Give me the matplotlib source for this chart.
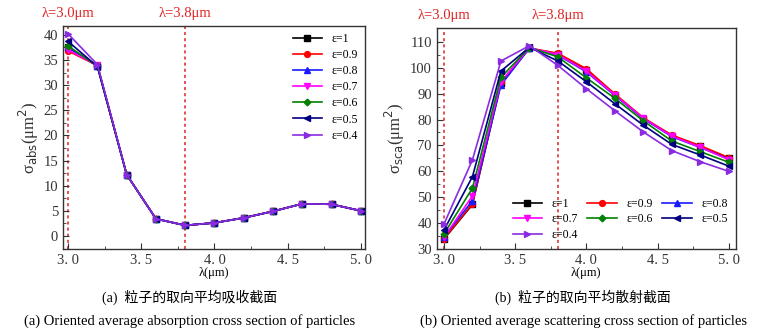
import matplotlib
matplotlib.use("Agg")
import matplotlib.pyplot as plt
import numpy as np

plt.rcParams['font.family'] = ['Liberation Serif', 'Noto Sans CJK SC', 'DejaVu Sans']
plt.rcParams['mathtext.fontset'] = 'dejavusans'

wavelength = [3.0, 3.2, 3.4, 3.6, 3.8, 4.0, 4.2, 4.4, 4.6, 4.8, 5.0]
labels = ['ε=1', 'ε=0.9', 'ε=0.8', 'ε=0.7', 'ε=0.6', 'ε=0.5', 'ε=0.4']
colors = ['#000000', '#ff0000', '#1a1aff', '#ff00ff', '#008000', '#000080', '#8a2be2']
markers = ['s', 'o', '^', 'v', 'D', '<', '>']
msizes = [3.8, 4.2, 4.2, 4.2, 3.4, 4.2, 4.2]

abs_e10 = [37.5, 33.8, 12.2, 3.4, 2.1, 2.6, 3.6, 4.9, 6.4, 6.3, 5.0]
abs_e09 = [36.8, 33.9, 12.2, 3.4, 2.1, 2.6, 3.6, 4.9, 6.4, 6.3, 5.0]
abs_e08 = [37.5, 33.9, 12.2, 3.4, 2.1, 2.6, 3.6, 4.9, 6.4, 6.3, 5.0]
abs_e07 = [37.0, 34.0, 12.2, 3.4, 2.1, 2.6, 3.6, 4.9, 6.4, 6.3, 5.0]
abs_e06 = [37.8, 33.8, 12.2, 3.4, 2.1, 2.6, 3.6, 4.9, 6.4, 6.3, 5.0]
abs_e05 = [38.7, 33.7, 12.2, 3.4, 2.1, 2.6, 3.6, 4.9, 6.4, 6.3, 5.0]
abs_e04 = [40.2, 34.1, 12.2, 3.4, 2.1, 2.6, 3.6, 4.9, 6.4, 6.3, 5.0]

sca_e10 = [33.8, 47.2, 94.0, 107.5, 105.3, 99.3, 89.6, 80.4, 73.8, 69.6, 65.0]
sca_e09 = [34.0, 47.5, 94.5, 107.6, 105.6, 99.6, 89.9, 80.7, 74.0, 69.9, 65.3]
sca_e08 = [34.8, 48.6, 93.3, 107.6, 104.9, 98.4, 89.3, 80.3, 73.4, 69.2, 64.7]
sca_e07 = [34.5, 50.5, 94.6, 107.7, 105.1, 98.7, 89.5, 80.5, 73.6, 69.3, 64.5]
sca_e06 = [35.8, 53.5, 96.3, 107.8, 104.2, 96.1, 88.2, 79.5, 71.7, 67.6, 63.5]
sca_e05 = [37.3, 57.9, 98.7, 107.9, 102.6, 94.6, 86.1, 77.8, 70.4, 66.3, 62.0]
sca_e04 = [39.6, 64.4, 102.6, 108.5, 100.9, 91.9, 83.4, 75.2, 68.0, 63.7, 60.0]

abs_series = [abs_e10, abs_e09, abs_e08, abs_e07, abs_e06, abs_e05, abs_e04]
sca_series = [sca_e10, sca_e09, sca_e08, sca_e07, sca_e06, sca_e05, sca_e04]

fig = plt.figure(figsize=(7.65, 3.34), dpi=100)
ax1 = fig.add_axes([0.0824, 0.2545, 0.395, 0.668])
ax2 = fig.add_axes([0.571, 0.2545, 0.391, 0.662])

tick_font = 10.5

def style(ax):
    ax.tick_params(direction='in', which='both', top=False, right=False, labelsize=tick_font, colors='#333333')
    ax.tick_params(which='major', length=4)
    ax.tick_params(which='minor', length=2)
    for s in ax.spines.values():
        s.set_color('#333333')
        s.set_linewidth(1.0)
    ax.set_xticks([3.0, 3.5, 4.0, 4.5, 5.0])
    ax.set_xticklabels(['3. 0', '3. 5', '4. 0', '4. 5', '5. 0'])
    ax.set_xticks([3.25, 3.75, 4.25, 4.75], minor=True)
    ax.set_xlabel('λ(μm)', fontsize=9, labelpad=0)
    for xv, txt in [(3.0, 'λ=3.0μm'), (3.8, 'λ=3.8μm')]:
        ax.axvline(xv, color='#e02020', linestyle=(0, (2, 2)), linewidth=1.1, zorder=1)
        ax.text(xv, 1.025, txt, color='#e02020', fontsize=10.5, ha='center', va='bottom',
                transform=ax.get_xaxis_transform())

for ys, c, m, ms, lb in zip(abs_series, colors, markers, msizes, labels):
    ax1.plot(wavelength, ys, color=c, marker=m, markersize=ms, linewidth=1.2, label=lb, zorder=3)
ax1.set_xlim(2.965, 5.03)
ax1.set_ylim(-2.6, 41.8)
ax1.set_yticks(np.arange(0, 41, 5))
ax1.set_yticks(np.arange(2.5, 41, 5), minor=True)
style(ax1)
ax1.set_ylabel(r'σ$_{\mathsf{abs}}$(μm$^2$)', fontsize=12, labelpad=2, color='#333333')
ax1.legend(loc='upper right', frameon=False, fontsize=8.5, handlelength=2.5,
           labelspacing=0.35, borderaxespad=0.2)

handles = []
for ys, c, m, ms, lb in zip(sca_series, colors, markers, msizes, labels):
    h, = ax2.plot(wavelength, ys, color=c, marker=m, markersize=ms, linewidth=1.2, label=lb, zorder=3)
    handles.append(h)
ax2.set_xlim(2.95, 5.05)
ax2.set_ylim(30, 115.4)
ax2.set_yticks(np.arange(30, 111, 10))
ax2.set_yticks(np.arange(35, 111, 10), minor=True)
style(ax2)
ax2.set_ylabel(r'σ$_{\mathsf{sca}}$(μm$^2$)', fontsize=12, labelpad=2, color='#333333')
order = [0, 3, 6, 1, 4, 2, 5]
ax2.legend([handles[i] for i in order], [labels[i] for i in order],
           loc='lower right', frameon=False, fontsize=8.5, ncol=3, handlelength=2.5,
           labelspacing=0.3, columnspacing=0.8, borderaxespad=0.3)

cap_zh = ['(a)  粒子的取向平均吸收截面', '(b)  粒子的取向平均散射截面']
cap_en = ['(a) Oriented average absorption cross section of particles',
          '(b) Oriented average scattering cross section of particles']
for xc, zh, en in zip([190 / 765, 583 / 765], cap_zh, cap_en):
    fig.text(xc, 1 - 297 / 334, zh, ha='center', va='center', fontsize=10,
             family=['Liberation Serif', 'Noto Sans CJK SC'])
    fig.text(xc, 1 - 321 / 334, en, ha='center', va='center', fontsize=10.5,
             family=['Liberation Serif'])

fig.savefig('out.png', dpi=100)
